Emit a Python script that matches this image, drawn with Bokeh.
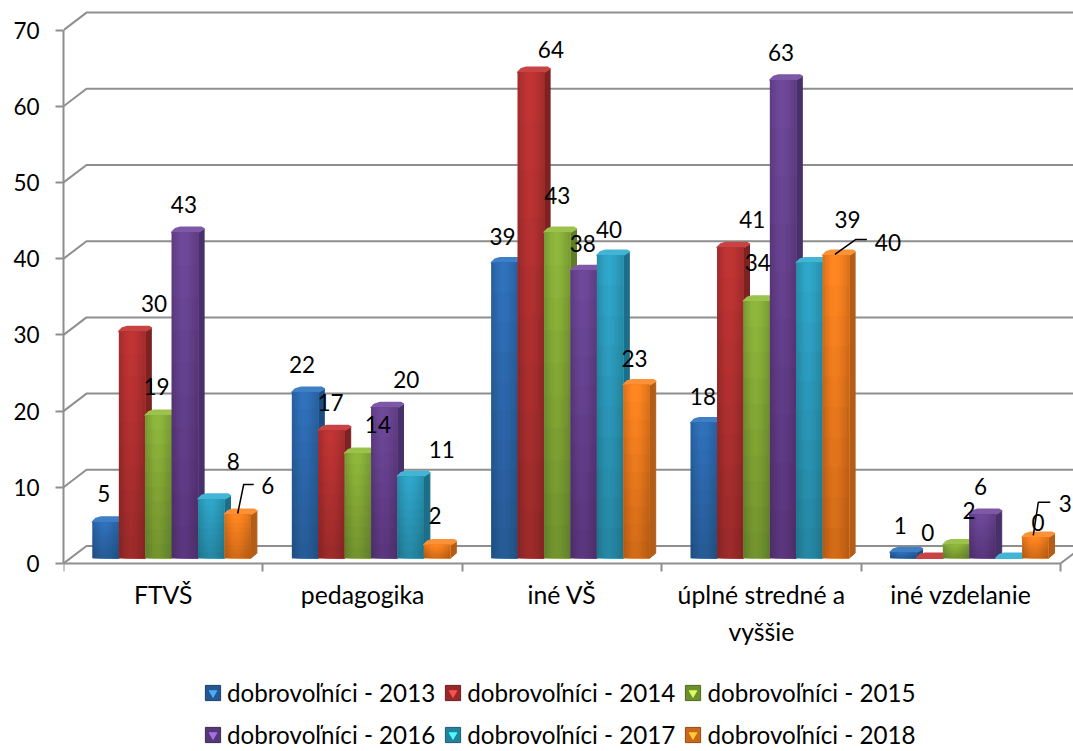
from bokeh.plotting import figure
from bokeh.models import Range1d, LinearAxis, FixedTicker, Legend, LegendItem
from bokeh.embed import file_html
from bokeh.resources import INLINE
from bokeh.core.properties import value

categories = ["FTVŠ", "pedagogika", "iné VŠ", "úplné stredné a\nvyššie", "iné vzdelanie"]
series_names = ["dobrovoľníci - 2013", "dobrovoľníci - 2014", "dobrovoľníci - 2015",
                "dobrovoľníci - 2016", "dobrovoľníci - 2017", "dobrovoľníci - 2018"]
v2013 = [5, 22, 39, 18, 1]
v2014 = [30, 17, 64, 41, 0]
v2015 = [19, 14, 43, 34, 2]
v2016 = [43, 20, 38, 63, 6]
v2017 = [8, 11, 40, 39, 0]
v2018 = [6, 2, 23, 40, 3]
series = [v2013, v2014, v2015, v2016, v2017, v2018]
y_ticks = [0, 10, 20, 30, 40, 50, 60, 70]

face = ["#2e6cb2", "#b83232", "#88ae3a", "#6a4592", "#2d9fc0", "#f58020"]
side = ["#1f4c80", "#7c2222", "#5f7c28", "#48306a", "#1d6e88", "#b25e18"]
cap = ["#3f7fc6", "#c84444", "#9cc24c", "#7d58a6", "#43b4d4", "#fb9238"]

# label offsets from the bar's top centre, in pixels (per series, per category)
label_dx = [[-2, -3, -2, -1, -3], [22, -1, 20, 22, -2], [-2, 20, 0, 1, 13],
            [-1, 22, -1, -2, -2], [22, 31, -1, 38, 29], [30, -2, -2, 52, 30]]
label_dy = [[-27, -26, -25, -25, -25], [-26, -26, -21, -26, -26], [-27, -27, -35, -37, -32],
            [-26, -26, -25, -26, -26], [-36, -25, -24, -42, -36], [-27, -27, -24, -11, -32]]
# leader lines: category of the orange bar, then pixel offsets from its top centre
leaders = [(0, [0, 6, 16], [1, -28, -28]), (3, [-1, 20, 31], [1, -14, -14]), (4, [-2, 3, 15], [0, -33, -33])]

W, H = 1073, 751
LEFT = 63
PX = 199.4           # pixels per category
PY = 7.62            # pixels per unit
Y0_IMG = 563         # zero line within figure
F = "Lato"
FS = "22.5px"
FS_CAT = "24.8px"
FS_LEG = "24.2px"
GRID = "#8e8e8e"

p = figure(width=W, height=H, output_backend="svg", toolbar_location=None,
           x_range=Range1d(0, (W - LEFT) / PX),
           y_range=Range1d(-(H - Y0_IMG) / PY, Y0_IMG / PY),
           min_border_left=LEFT, min_border_right=0, min_border_top=0, min_border_bottom=0,
           x_axis_location=None, y_axis_location=None, outline_line_color=None)
p.grid.visible = False

dx = lambda px: px / PX
dy = lambda px: px / PY

# walls: gridlines
WALL_X, WALL_Y = dx(23), dy(17.5)
x_end = len(categories)
gx, gy = [], []
for t in y_ticks:
    gx.append([0, WALL_X, x_end + WALL_X])
    gy.append([t, t + WALL_Y, t + WALL_Y])
p.multi_line(gx, gy, line_color=GRID, line_width=2)
p.line([x_end, x_end + WALL_X], [0, WALL_Y], line_color=GRID, line_width=2)

# axes
yax = LinearAxis(ticker=FixedTicker(ticks=y_ticks), bounds=(0, 70), axis_line_color=GRID, axis_line_width=2,
                 major_tick_line_color=GRID, major_tick_line_width=2, major_tick_in=0, major_tick_out=8,
                 minor_tick_line_color=None, major_label_text_font=F, major_label_text_font_size=FS,
                 major_label_text_color="#000000", major_label_standoff=16)
p.add_layout(yax, "left")
xax = LinearAxis(ticker=FixedTicker(ticks=[i + 0.5 for i in range(len(categories))],
                                    minor_ticks=list(range(len(categories) + 1))),
                 fixed_location=0, bounds=(0, x_end), axis_line_color=GRID, axis_line_width=2,
                 major_tick_line_color=None, minor_tick_line_color=GRID, minor_tick_line_width=2,
                 minor_tick_in=0, minor_tick_out=8, major_tick_in=0, major_tick_out=0,
                 major_label_overrides={i + 0.5: c for i, c in enumerate(categories)},
                 major_label_text_font=F, major_label_text_font_size=FS_CAT, major_label_text_color="#000000",
                 major_label_text_line_height=1.3,
                 major_label_standoff=8, major_label_orientation="horizontal")
p.add_layout(xax, "below")

# bars
def shade(h, f):
    r, g, b = int(h[1:3], 16), int(h[3:5], 16), int(h[5:7], 16)
    c = lambda v: max(0, min(255, int(v * f)))
    return "#%02x%02x%02x" % (c(r), c(g), c(b))

BAR_L, BAR_W = dx(29), dx(26.4)
BASE = dy(5.3)
TOP_SHIFT = dy(3.5)
DEPTH_X, DEPTH_Y = dx(6), dy(5)
R_X, R_Y = dx(2.5), dy(1.5)
profile = [0.9, 0.95, 0.99, 1.03, 1.05, 1.06, 1.05, 1.03, 1.0, 0.97, 0.94, 0.9]
n_bands = 10
nan = float("nan")
for s, vals in enumerate(series):
    x0 = [i + BAR_L + s * BAR_W for i in range(len(vals))]
    x1 = [x + BAR_W for x in x0]
    top = [max(TOP_SHIFT + v, BASE) for v in vals]
    # side and cap, with the back corners cut to read as rounded
    p.patches([[a, a + DEPTH_X, a + DEPTH_X, a] for a in x1],
              [[BASE, BASE + DEPTH_Y, max(t + DEPTH_Y - R_Y, BASE + DEPTH_Y), t] for t in top],
              fill_color=side[s], line_color=side[s], line_width=1, line_join="round")
    p.patches([[a, a + DEPTH_X - R_X, a + DEPTH_X + R_X, b + DEPTH_X - R_X, b + DEPTH_X, b]
               for a, b in zip(x0, x1)],
              [[t, t + DEPTH_Y - R_Y, t + DEPTH_Y, t + DEPTH_Y, t + DEPTH_Y - R_Y, t] for t in top],
              fill_color=cap[s], line_color=cap[s], line_width=1.5, line_join="round")
    # front face, built of overlapping strips for the bevel shading
    p.quad(left=x0, right=x1, bottom=BASE, top=top, fill_color=face[s], line_color=None)
    for k, f in enumerate(profile):
        p.quad(left=[a + BAR_W * k / len(profile) for a in x0], right=x1, bottom=BASE, top=top,
               fill_color=shade(face[s], f), line_color=None)
    for b in range(1, n_bands):
        p.quad(left=x0, right=x1, bottom=BASE, top=[BASE + (t - BASE) * (1 - b / n_bands) for t in top],
               fill_color="#000000", fill_alpha=0.018, line_color=None)

# data labels
for s, vals in enumerate(series):
    xc = [i + BAR_L + (s + 0.5) * BAR_W for i in range(len(vals))]
    p.text(x=xc, y=[BASE + v for v in vals], text=[str(v) for v in vals],
           x_offset=label_dx[s], y_offset=label_dy[s], text_font=value(F), text_font_size=value(FS),
           text_align="center", text_baseline="middle", text_color="#000000")

for cat, ox, oy in leaders:
    xc = cat + BAR_L + 5.5 * BAR_W
    t = BASE + v2018[cat]
    p.line([xc + dx(a) for a in ox], [t - dy(b) for b in oy], line_color="#000000", line_width=1.5)

# legends
def legend_row(idx, x, y):
    items = []
    for s in idx:
        body = p.quad(left=[nan], right=[nan], bottom=[nan], top=[nan],
                      fill_color=shade(face[s], 0.82), line_color=shade(face[s], 0.6), line_width=1)
        tri = p.scatter(x=[nan], y=[nan], marker="inverted_triangle",
                        fill_color=shade(face[s], 1.6), line_color=shade(face[s], 1.6), size=6)
        items.append(LegendItem(label=value(series_names[s]), renderers=[body, tri]))
    lg = Legend(items=items, location=(x, y), orientation="horizontal", glyph_width=19, glyph_height=19,
                label_standoff=5, spacing=8, padding=0, margin=0, background_fill_alpha=0,
                border_line_color=None, label_text_font=F, label_text_font_size=FS_LEG,
                label_text_color="#000000", label_height=19, click_policy="none")
    p.add_layout(lg)

legend_row([0, 1, 2], 140, 44)
legend_row([3, 4, 5], 140, 2)

open("out.html", "w").write(file_html(p, INLINE))
